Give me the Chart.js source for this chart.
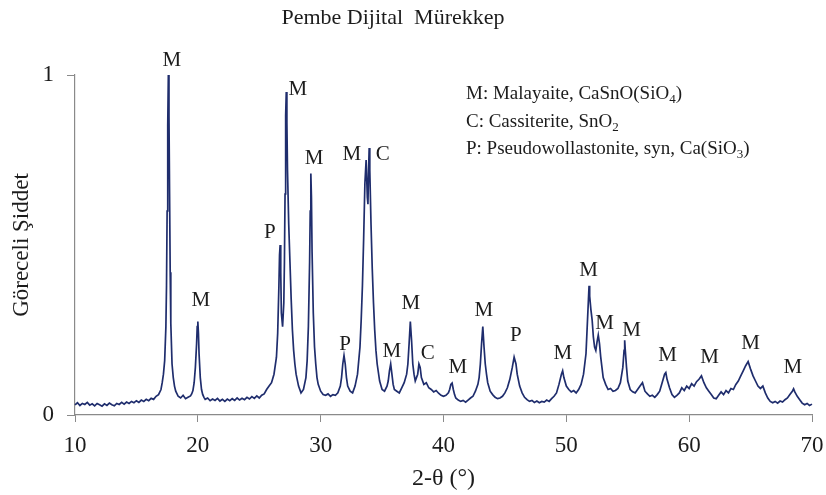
<!DOCTYPE html>
<html>
<head>
<meta charset="utf-8">
<script src="https://cdn.jsdelivr.net/npm/chart.js@4.4.1/dist/chart.umd.min.js"></script>
<style>
  html, body { margin: 0; padding: 0; background: #fff; }
  #wrap { width: 826px; height: 495px; }
</style>
</head>
<body>
<div id="wrap"><canvas id="xrd" width="826" height="495"></canvas></div>
<script>
// 2-theta positions (degrees)
const twoTheta = [
  10.0, 10.2, 10.4, 10.6, 10.8, 11.0, 11.2, 11.4, 11.6, 11.8,
  12.0, 12.2, 12.4, 12.6, 12.8, 13.0, 13.2, 13.4, 13.6, 13.8,
  14.0, 14.2, 14.4, 14.6, 14.8, 15.0, 15.2, 15.4, 15.6, 15.8,
  16.0, 16.2, 16.4, 16.6, 16.8, 17.0, 17.1, 17.2, 17.3, 17.4,
  17.45, 17.5, 17.55, 17.6, 17.65, 17.7, 17.75, 17.8, 17.9, 18.0,
  18.1, 18.2, 18.4, 18.6, 18.8, 19.0, 19.2, 19.4, 19.5, 19.6,
  19.7, 19.8, 19.9, 19.95, 20.0, 20.05, 20.1, 20.2, 20.3, 20.4,
  20.5, 20.6, 20.8, 21.0, 21.2, 21.4, 21.6, 21.8, 22.0, 22.2,
  22.4, 22.6, 22.8, 23.0, 23.2, 23.4, 23.6, 23.8, 24.0, 24.2,
  24.4, 24.6, 24.8, 25.0, 25.2, 25.4, 25.6, 25.8, 26.0, 26.2,
  26.4, 26.5, 26.6, 26.65, 26.7, 26.75, 26.8, 26.9, 27.0, 27.05,
  27.1, 27.15, 27.2, 27.25, 27.3, 27.4, 27.5, 27.6, 27.7, 27.8,
  27.9, 28.0, 28.2, 28.4, 28.6, 28.8, 28.9, 29.0, 29.1, 29.15,
  29.2, 29.25, 29.3, 29.4, 29.5, 29.6, 29.7, 29.8, 30.0, 30.2,
  30.4, 30.6, 30.8, 31.0, 31.2, 31.4, 31.6, 31.7, 31.8, 31.9,
  32.0, 32.1, 32.2, 32.4, 32.6, 32.8, 33.0, 33.2, 33.3, 33.4,
  33.5, 33.6, 33.7, 33.8, 33.85, 33.9, 33.95, 34.0, 34.1, 34.2,
  34.3, 34.4, 34.5, 34.6, 34.8, 35.0, 35.2, 35.4, 35.5, 35.6,
  35.7, 35.8, 35.9, 36.0, 36.2, 36.4, 36.6, 36.8, 37.0, 37.1,
  37.2, 37.3, 37.4, 37.5, 37.6, 37.7, 37.8, 37.9, 38.0, 38.1,
  38.2, 38.4, 38.6, 38.8, 39.0, 39.2, 39.4, 39.6, 39.8, 40.0,
  40.2, 40.4, 40.5, 40.6, 40.7, 40.8, 40.9, 41.0, 41.2, 41.4,
  41.6, 41.8, 42.0, 42.2, 42.4, 42.6, 42.8, 42.9, 43.0, 43.1,
  43.2, 43.3, 43.4, 43.5, 43.6, 43.8, 44.0, 44.2, 44.4, 44.6,
  44.8, 45.0, 45.2, 45.4, 45.6, 45.75, 45.9, 46.0, 46.2, 46.4,
  46.6, 46.8, 47.0, 47.2, 47.4, 47.6, 47.8, 48.0, 48.2, 48.4,
  48.6, 48.8, 49.0, 49.2, 49.4, 49.6, 49.7, 49.8, 50.0, 50.2,
  50.4, 50.6, 50.8, 51.0, 51.2, 51.4, 51.6, 51.7, 51.8, 51.85,
  51.9, 52.0, 52.1, 52.2, 52.3, 52.4, 52.5, 52.6, 52.7, 52.8,
  52.9, 53.0, 53.2, 53.4, 53.6, 53.8, 54.0, 54.2, 54.4, 54.6,
  54.7, 54.75, 54.8, 54.9, 55.0, 55.2, 55.4, 55.6, 55.8, 56.0,
  56.2, 56.4, 56.6, 56.8, 57.0, 57.2, 57.4, 57.6, 57.8, 58.0,
  58.1, 58.2, 58.4, 58.6, 58.8, 59.0, 59.2, 59.4, 59.6, 59.8,
  60.0, 60.2, 60.4, 60.6, 60.8, 61.0, 61.2, 61.4, 61.6, 61.8,
  62.0, 62.2, 62.4, 62.6, 62.8, 63.0, 63.2, 63.4, 63.6, 63.8,
  64.0, 64.2, 64.4, 64.6, 64.8, 65.0, 65.2, 65.4, 65.6, 65.8,
  66.0, 66.2, 66.4, 66.6, 66.8, 67.0, 67.2, 67.4, 67.6, 67.8,
  68.0, 68.2, 68.4, 68.5, 68.6, 68.8, 69.0, 69.2, 69.4, 69.6,
  69.8, 70.0
]

// relative intensity at each position
const intensity = [
  .030, .036, .028, .034, .031, .037, .029, .033, .027, .034,
  .030, .026, .033, .028, .035, .030, .027, .034, .031, .037,
  .032, .038, .034, .040, .036, .042, .037, .044, .040, .046,
  .042, .049, .046, .055, .060, .075, .095, .120, .160, .260,
  .380, .600, .850, 1.00, .880, .650, .420, .270, .150, .110,
  .085, .070, .055, .050, .058, .048, .052, .056, .062, .072,
  .095, .140, .210, .260, .275, .240, .180, .110, .075, .060,
  .052, .046, .050, .042, .047, .043, .049, .041, .046, .040,
  .047, .042, .048, .043, .050, .044, .049, .045, .052, .047,
  .054, .049, .056, .050, .058, .062, .075, .085, .095, .120,
  .170, .240, .380, .470, .500, .420, .300, .260, .330, .450,
  .650, .880, .950, .860, .720, .560, .450, .340, .250, .190,
  .150, .120, .085, .065, .075, .110, .160, .260, .450, .600,
  .710, .640, .480, .300, .200, .150, .110, .090, .070, .060,
  .058, .062, .055, .060, .058, .065, .085, .110, .150, .175,
  .150, .110, .085, .070, .065, .085, .120, .200, .280, .380,
  .520, .680, .750, .640, .620, .720, .785, .720, .560, .430,
  .330, .250, .190, .150, .100, .075, .070, .085, .100, .130,
  .150, .120, .090, .075, .070, .065, .080, .095, .120, .150,
  .210, .275, .220, .150, .120, .100, .110, .120, .150, .140,
  .110, .090, .095, .080, .075, .068, .072, .064, .058, .055,
  .058, .065, .075, .090, .094, .075, .060, .050, .044, .040,
  .043, .038, .044, .050, .055, .070, .090, .110, .150, .210,
  .260, .200, .150, .120, .095, .070, .060, .052, .048, .050,
  .055, .065, .080, .105, .140, .170, .150, .120, .085, .065,
  .052, .045, .040, .043, .037, .041, .036, .040, .038, .044,
  .040, .048, .055, .065, .090, .120, .130, .110, .085, .075,
  .068, .072, .065, .075, .090, .120, .180, .260, .340, .380,
  .350, .310, .280, .230, .200, .190, .215, .235, .210, .170,
  .140, .110, .090, .075, .078, .070, .072, .078, .095, .140,
  .190, .220, .190, .140, .100, .075, .068, .065, .075, .085,
  .095, .070, .062, .055, .058, .052, .060, .070, .095, .120,
  .125, .105, .080, .060, .052, .058, .065, .080, .072, .085,
  .078, .092, .085, .098, .105, .115, .095, .080, .070, .060,
  .050, .048, .058, .068, .060, .072, .065, .078, .075, .090,
  .100, .115, .130, .145, .157, .135, .115, .100, .085, .078,
  .085, .065, .050, .040, .036, .040, .035, .041, .038, .045,
  .050, .060, .070, .077, .068, .055, .045, .035, .030, .034,
  .028, .032
]

// phase letters over the peaks, with where each letter sits (deg, intensity)
const peakLetters = ['M', 'M', 'P', 'M', 'M', 'M', 'C', 'P', 'M', 'M', 'C',
                     'M', 'M', 'P', 'M', 'M', 'M', 'M', 'M', 'M', 'M', 'M']
const letterAngle = [17.89, 20.25, 25.86, 28.14, 29.46, 32.54, 35.06, 31.98, 35.79, 37.34, 38.72,
                     41.16, 43.28, 45.88, 49.71, 51.82, 53.12, 55.32, 58.25, 61.67, 65.0, 68.43]
const letterLevel = [1.044, 0.338, 0.538, 0.956, 0.753, 0.765, 0.765, 0.206, 0.188, 0.329, 0.182,
                     0.141, 0.306, 0.235, 0.182, 0.426, 0.268, 0.250, 0.176, 0.168, 0.209, 0.141]

// key lines: [text, isSubscript]
const keyLines = [
  [['M: Malayaite, CaSnO(SiO', false], ['4', true], [')', false]],
  [['C: Cassiterite, SnO', false], ['2', true]],
  [['P: Pseudowollastonite, syn, Ca(SiO', false], ['3', true], [')', false]]
]

const xTicks = [10, 20, 30, 40, 50, 60, 70]
const yTicks = [0, 1]

const serif = '"Liberation Serif", "Times New Roman", serif'
const ink = '#1c1c1c'
const axisGrey = '#8a8a8a'

const textPlugin = {
  id: 'textPlugin',
  afterDraw(chart) {
    const ctx = chart.ctx
    const xs = chart.scales.x
    const ys = chart.scales.y
    const area = chart.chartArea
    ctx.save()
    ctx.fillStyle = ink

    // title
    ctx.font = '22px ' + serif
    ctx.textAlign = 'center'
    ctx.textBaseline = 'middle'
    ctx.fillText('Pembe Dijital  Mürekkep', 393, 18)

    // peak letters
    ctx.font = '21px ' + serif
    for (let i = 0; i < peakLetters.length; i++) {
      ctx.fillText(peakLetters[i], xs.getPixelForValue(letterAngle[i]), ys.getPixelForValue(letterLevel[i]))
    }

    // key
    ctx.textAlign = 'left'
    ctx.textBaseline = 'alphabetic'
    keyLines.forEach((parts, row) => {
      let x = 466
      const y = 99 + row * 27.5
      parts.forEach(([txt, sub]) => {
        ctx.font = (sub ? '13px ' : '19px ') + serif
        ctx.fillText(txt, x, sub ? y + 4 : y)
        x += ctx.measureText(txt).width
      })
    })

    // axis titles
    ctx.textAlign = 'center'
    ctx.textBaseline = 'middle'
    ctx.font = '24px ' + serif
    ctx.fillText('2-θ (°)', (area.left + area.right) / 2, 479)
    ctx.font = '23px ' + serif
    ctx.translate(22, (area.top + area.bottom) / 2)
    ctx.rotate(-Math.PI / 2)
    ctx.fillText('Göreceli Şiddet', 0, 0)
    ctx.restore()
  }
}

new Chart(document.getElementById('xrd'), {
  type: 'line',
  data: {
    datasets: [{
      data: twoTheta.map((t, i) => ({ x: t, y: intensity[i] })),
      borderColor: '#1f2d6d',
      borderWidth: 1.7,
      pointRadius: 0,
      tension: 0,
      fill: false,
      clip: false
    }]
  },
  options: {
    responsive: false,
    animation: false,
    layout: { padding: { top: 75, right: 14, left: 0, bottom: 0 } },
    plugins: {
      legend: { display: false },
      tooltip: { enabled: false }
    },
    scales: {
      x: {
        type: 'linear',
        min: 10,
        max: 70,
        afterBuildTicks: (s) => { s.ticks = xTicks.map(v => ({ value: v })) },
        afterFit: (s) => { s.height = 80; s.paddingLeft = 0; s.paddingRight = 0 },
        ticks: { font: { family: serif, size: 23 }, color: ink, padding: 10, maxRotation: 0 },
        grid: { drawOnChartArea: false, drawTicks: true, tickLength: 7, color: axisGrey },
        border: { color: axisGrey, width: 1.2 }
      },
      y: {
        type: 'linear',
        min: 0,
        max: 1,
        afterBuildTicks: (s) => { s.ticks = yTicks.map(v => ({ value: v })) },
        afterFit: (s) => { s.width = 75; s.paddingTop = 0; s.paddingBottom = 0 },
        ticks: { font: { family: serif, size: 23 }, color: ink, padding: 13 },
        grid: { drawOnChartArea: false, drawTicks: true, tickLength: 8, color: axisGrey },
        border: { color: axisGrey, width: 1.2 }
      }
    }
  },
  plugins: [textPlugin]
})
</script>
</body>
</html>
